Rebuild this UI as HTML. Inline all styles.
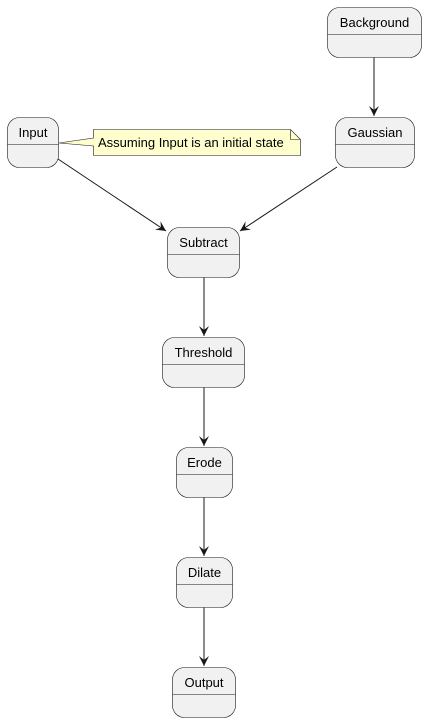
<!DOCTYPE html>
<html><head><meta charset="utf-8"><style>
html,body{margin:0;padding:0;background:#fff;}
svg{display:block;}
text{font-family:"Liberation Sans",Arial,sans-serif;font-size:13px;fill:#000;}
</style></head><body>
<svg width="427" height="722" viewBox="0 0 427 722" xmlns="http://www.w3.org/2000/svg">
<defs>
<marker id="a" markerWidth="12" markerHeight="10" refX="10" refY="5" orient="auto" markerUnits="userSpaceOnUse">
<path d="M0,0 L10,5 L0,10 L4,5 Z" fill="#181818"/>
</marker>
</defs>
<g stroke="#181818" stroke-width="1" fill="none">
<line x1="374" y1="57" x2="374" y2="116" marker-end="url(#a)"/>
<line x1="58" y1="159" x2="166" y2="231" marker-end="url(#a)"/>
<line x1="337" y1="167" x2="240" y2="231" marker-end="url(#a)"/>
<line x1="204" y1="277" x2="204" y2="336" marker-end="url(#a)"/>
<line x1="204" y1="387" x2="204" y2="446" marker-end="url(#a)"/>
<line x1="204" y1="497" x2="204" y2="556" marker-end="url(#a)"/>
<line x1="204" y1="607" x2="204" y2="666" marker-end="url(#a)"/>
</g>
<g fill="#f1f1f1" stroke="#181818" stroke-width="0.6">
<rect x="327.5" y="7.5" width="94" height="50" rx="12"/>
<rect x="335.5" y="117.5" width="79" height="50" rx="12"/>
<rect x="7.5" y="117.5" width="51" height="50" rx="12"/>
<rect x="167.5" y="227.5" width="72" height="50" rx="12"/>
<rect x="162.5" y="337.5" width="82" height="50" rx="12"/>
<rect x="176.5" y="447.5" width="56" height="50" rx="12"/>
<rect x="176.5" y="557.5" width="56" height="50" rx="12"/>
<rect x="172.5" y="667.5" width="63" height="50" rx="12"/>
</g>
<g stroke="#181818" stroke-width="0.6">
<line x1="327.5" y1="34.5" x2="421.5" y2="34.5"/>
<line x1="335.5" y1="144.5" x2="414.5" y2="144.5"/>
<line x1="7.5" y1="144.5" x2="58.5" y2="144.5"/>
<line x1="167.5" y1="254.5" x2="239.5" y2="254.5"/>
<line x1="162.5" y1="364.5" x2="244.5" y2="364.5"/>
<line x1="176.5" y1="474.5" x2="232.5" y2="474.5"/>
<line x1="176.5" y1="584.5" x2="232.5" y2="584.5"/>
<line x1="172.5" y1="694.5" x2="235.5" y2="694.5"/>
</g>
<path d="M93.5,129.5 L290.5,129.5 L300.5,139.5 L300.5,155.5 L93.5,155.5 L93.5,146 L59,143 L93.5,138 Z" fill="#fefece" stroke="#181818" stroke-width="0.6"/>
<path d="M290.5,129.5 L290.5,139.5 L300.5,139.5" fill="none" stroke="#181818" stroke-width="0.6"/>
<g text-anchor="middle">
<text x="374.5" y="27">Background</text>
<text x="375" y="137">Gaussian</text>
<text x="33" y="137">Input</text>
<text x="203.5" y="247">Subtract</text>
<text x="203.5" y="357">Threshold</text>
<text x="204.5" y="467">Erode</text>
<text x="204.5" y="577">Dilate</text>
<text x="204" y="687">Output</text>
</g>
<text x="98" y="147" style="font-size:13px">Assuming Input is an initial state</text>
</svg>
</body></html>
